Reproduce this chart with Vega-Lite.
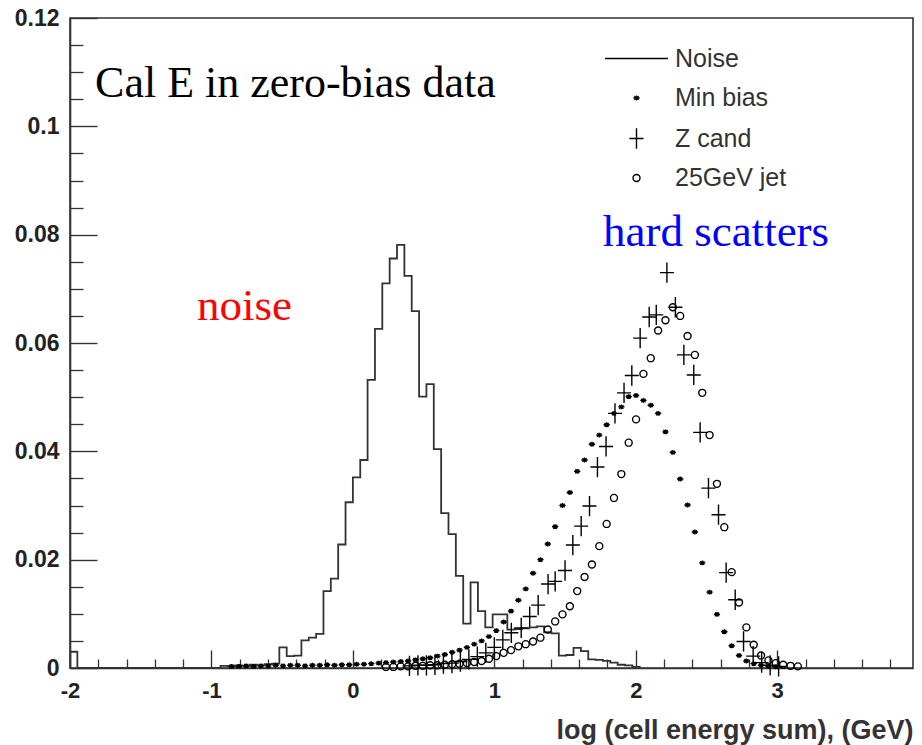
{
  "$schema": "https://vega.github.io/schema/vega-lite/v6.json",
  "width": 843,
  "height": 650,
  "autosize": {"type": "none"},
  "padding": {"left": 70, "top": 18, "right": 9, "bottom": 77},
  "background": "white",
  "config": {"view": {"stroke": "#333", "strokeWidth": 1.6}, "axis": {"grid": false}},
  "datasets": {
    "noise": [
      {"x": -2, "y": 0.003}, {"x": -1.948, "y": 0},
      {"x": -0.936, "y": 0.0004}, {"x": -0.884, "y": 0.0003}, {"x": -0.832, "y": 0.0005}, {"x": -0.78, "y": 0.0004},
      {"x": -0.728, "y": 0.0006}, {"x": -0.676, "y": 0.0005}, {"x": -0.624, "y": 0.0007}, {"x": -0.572, "y": 0.0008},
      {"x": -0.52, "y": 0.0038}, {"x": -0.468, "y": 0.0022}, {"x": -0.416, "y": 0.0023}, {"x": -0.364, "y": 0.0051},
      {"x": -0.312, "y": 0.0056}, {"x": -0.26, "y": 0.0063}, {"x": -0.208, "y": 0.0142}, {"x": -0.156, "y": 0.0165},
      {"x": -0.104, "y": 0.0228}, {"x": -0.052, "y": 0.0306}, {"x": 0, "y": 0.0352}, {"x": 0.052, "y": 0.0384},
      {"x": 0.104, "y": 0.0532}, {"x": 0.156, "y": 0.0626}, {"x": 0.208, "y": 0.071}, {"x": 0.26, "y": 0.0756},
      {"x": 0.312, "y": 0.0781}, {"x": 0.364, "y": 0.0724}, {"x": 0.416, "y": 0.0659}, {"x": 0.468, "y": 0.0501},
      {"x": 0.52, "y": 0.0524}, {"x": 0.572, "y": 0.0404}, {"x": 0.624, "y": 0.0286}, {"x": 0.676, "y": 0.0247},
      {"x": 0.728, "y": 0.017}, {"x": 0.78, "y": 0.0082}, {"x": 0.832, "y": 0.0158}, {"x": 0.884, "y": 0.0105},
      {"x": 0.936, "y": 0.0075}, {"x": 0.988, "y": 0.0099}, {"x": 1.04, "y": 0.0099}, {"x": 1.092, "y": 0.0071},
      {"x": 1.144, "y": 0.0072}, {"x": 1.196, "y": 0.0073}, {"x": 1.248, "y": 0.0075}, {"x": 1.3, "y": 0.0077},
      {"x": 1.352, "y": 0.0066}, {"x": 1.404, "y": 0.0064}, {"x": 1.456, "y": 0.0023}, {"x": 1.508, "y": 0.0024},
      {"x": 1.56, "y": 0.0037}, {"x": 1.612, "y": 0.0031}, {"x": 1.664, "y": 0.0016}, {"x": 1.716, "y": 0.0015},
      {"x": 1.768, "y": 0.0013}, {"x": 1.82, "y": 0.001}, {"x": 1.872, "y": 0.0006}, {"x": 1.924, "y": 0.0005},
      {"x": 1.976, "y": 0.0002}, {"x": 2.028, "y": 0}
    ],
    "pts": [
      {"x": -0.858, "y": 0.0003, "series": "Min bias"}, {"x": -0.806, "y": 0.0003, "series": "Min bias"},
      {"x": -0.754, "y": 0.0004, "series": "Min bias"}, {"x": -0.702, "y": 0.0003, "series": "Min bias"},
      {"x": -0.65, "y": 0.0004, "series": "Min bias"}, {"x": -0.598, "y": 0.0004, "series": "Min bias"},
      {"x": -0.546, "y": 0.0005, "series": "Min bias"}, {"x": -0.494, "y": 0.0004, "series": "Min bias"},
      {"x": -0.442, "y": 0.0005, "series": "Min bias"}, {"x": -0.39, "y": 0.0005, "series": "Min bias"},
      {"x": -0.338, "y": 0.0004, "series": "Min bias"}, {"x": -0.286, "y": 0.0005, "series": "Min bias"},
      {"x": -0.234, "y": 0.0005, "series": "Min bias"}, {"x": -0.182, "y": 0.0006, "series": "Min bias"},
      {"x": -0.13, "y": 0.0005, "series": "Min bias"}, {"x": -0.078, "y": 0.0006, "series": "Min bias"},
      {"x": -0.026, "y": 0.0006, "series": "Min bias"}, {"x": 0.026, "y": 0.0007, "series": "Min bias"},
      {"x": 0.078, "y": 0.0007, "series": "Min bias"}, {"x": 0.13, "y": 0.0008, "series": "Min bias"},
      {"x": 0.182, "y": 0.0009, "series": "Min bias"}, {"x": 0.234, "y": 0.001, "series": "Min bias"},
      {"x": 0.286, "y": 0.0011, "series": "Min bias"}, {"x": 0.338, "y": 0.0012, "series": "Min bias"},
      {"x": 0.39, "y": 0.0013, "series": "Min bias"}, {"x": 0.442, "y": 0.0015, "series": "Min bias"},
      {"x": 0.494, "y": 0.0017, "series": "Min bias"}, {"x": 0.546, "y": 0.0019, "series": "Min bias"},
      {"x": 0.598, "y": 0.0022, "series": "Min bias"}, {"x": 0.65, "y": 0.0025, "series": "Min bias"},
      {"x": 0.702, "y": 0.0029, "series": "Min bias"}, {"x": 0.754, "y": 0.0033, "series": "Min bias"},
      {"x": 0.806, "y": 0.0038, "series": "Min bias"}, {"x": 0.858, "y": 0.0044, "series": "Min bias"},
      {"x": 0.91, "y": 0.005, "series": "Min bias"}, {"x": 0.962, "y": 0.0058, "series": "Min bias"},
      {"x": 1.014, "y": 0.0069, "series": "Min bias"}, {"x": 1.066, "y": 0.0085, "series": "Min bias"},
      {"x": 1.118, "y": 0.0105, "series": "Min bias"}, {"x": 1.17, "y": 0.0125, "series": "Min bias"},
      {"x": 1.222, "y": 0.0146, "series": "Min bias"}, {"x": 1.274, "y": 0.0175, "series": "Min bias"},
      {"x": 1.326, "y": 0.02, "series": "Min bias"}, {"x": 1.378, "y": 0.0229, "series": "Min bias"},
      {"x": 1.43, "y": 0.0261, "series": "Min bias"}, {"x": 1.482, "y": 0.03, "series": "Min bias"},
      {"x": 1.534, "y": 0.0324, "series": "Min bias"}, {"x": 1.586, "y": 0.0363, "series": "Min bias"},
      {"x": 1.638, "y": 0.0384, "series": "Min bias"}, {"x": 1.69, "y": 0.0413, "series": "Min bias"},
      {"x": 1.742, "y": 0.043, "series": "Min bias"}, {"x": 1.794, "y": 0.0449, "series": "Min bias"},
      {"x": 1.846, "y": 0.047, "series": "Min bias"}, {"x": 1.898, "y": 0.0482, "series": "Min bias"},
      {"x": 1.95, "y": 0.0501, "series": "Min bias"}, {"x": 2.002, "y": 0.0503, "series": "Min bias"},
      {"x": 2.054, "y": 0.0494, "series": "Min bias"}, {"x": 2.106, "y": 0.0485, "series": "Min bias"},
      {"x": 2.158, "y": 0.047, "series": "Min bias"}, {"x": 2.21, "y": 0.0436, "series": "Min bias"},
      {"x": 2.262, "y": 0.0398, "series": "Min bias"}, {"x": 2.314, "y": 0.0349, "series": "Min bias"},
      {"x": 2.366, "y": 0.0301, "series": "Min bias"}, {"x": 2.418, "y": 0.0251, "series": "Min bias"},
      {"x": 2.47, "y": 0.0194, "series": "Min bias"}, {"x": 2.522, "y": 0.014, "series": "Min bias"},
      {"x": 2.574, "y": 0.0099, "series": "Min bias"}, {"x": 2.626, "y": 0.0067, "series": "Min bias"},
      {"x": 2.678, "y": 0.0041, "series": "Min bias"}, {"x": 2.73, "y": 0.0023, "series": "Min bias"},
      {"x": 2.782, "y": 0.0013, "series": "Min bias"}, {"x": 2.834, "y": 0.0008, "series": "Min bias"},
      {"x": 2.886, "y": 0.0005, "series": "Min bias"}, {"x": 2.938, "y": 0.0003, "series": "Min bias"},
      {"x": 2.99, "y": 0.0002, "series": "Min bias"},

      {"x": 0.4, "y": 0.0004, "series": "Z cand"}, {"x": 0.46, "y": 0.0005, "series": "Z cand"},
      {"x": 0.52, "y": 0.0005, "series": "Z cand"}, {"x": 0.58, "y": 0.0006, "series": "Z cand"},
      {"x": 0.64, "y": 0.0008, "series": "Z cand"}, {"x": 0.7, "y": 0.0009, "series": "Z cand"},
      {"x": 0.76, "y": 0.0012, "series": "Z cand"}, {"x": 0.82, "y": 0.0016, "series": "Z cand"},
      {"x": 0.88, "y": 0.0021, "series": "Z cand"}, {"x": 0.94, "y": 0.0028, "series": "Z cand"},
      {"x": 1.0, "y": 0.0038, "series": "Z cand"}, {"x": 1.06, "y": 0.0052, "series": "Z cand"},
      {"x": 1.12, "y": 0.0065, "series": "Z cand"}, {"x": 1.19, "y": 0.0074, "series": "Z cand"},
      {"x": 1.25, "y": 0.0095, "series": "Z cand"}, {"x": 1.31, "y": 0.0116, "series": "Z cand"},
      {"x": 1.38, "y": 0.0155, "series": "Z cand"}, {"x": 1.43, "y": 0.016, "series": "Z cand"},
      {"x": 1.5, "y": 0.018, "series": "Z cand"}, {"x": 1.555, "y": 0.0227, "series": "Z cand"},
      {"x": 1.614, "y": 0.0262, "series": "Z cand"}, {"x": 1.673, "y": 0.0299, "series": "Z cand"},
      {"x": 1.729, "y": 0.0371, "series": "Z cand"}, {"x": 1.79, "y": 0.0409, "series": "Z cand"},
      {"x": 1.853, "y": 0.047, "series": "Z cand"}, {"x": 1.917, "y": 0.0508, "series": "Z cand"},
      {"x": 1.972, "y": 0.054, "series": "Z cand"}, {"x": 2.031, "y": 0.0609, "series": "Z cand"},
      {"x": 2.095, "y": 0.0648, "series": "Z cand"}, {"x": 2.145, "y": 0.0652, "series": "Z cand"},
      {"x": 2.22, "y": 0.073, "series": "Z cand"}, {"x": 2.28, "y": 0.0666, "series": "Z cand"},
      {"x": 2.34, "y": 0.0578, "series": "Z cand"}, {"x": 2.41, "y": 0.0541, "series": "Z cand"},
      {"x": 2.455, "y": 0.0435, "series": "Z cand"}, {"x": 2.514, "y": 0.0332, "series": "Z cand"},
      {"x": 2.585, "y": 0.0283, "series": "Z cand"}, {"x": 2.639, "y": 0.0176, "series": "Z cand"},
      {"x": 2.703, "y": 0.0126, "series": "Z cand"}, {"x": 2.762, "y": 0.0049, "series": "Z cand"},
      {"x": 2.83, "y": 0.0022, "series": "Z cand"}, {"x": 2.89, "y": 0.001, "series": "Z cand"},
      {"x": 2.95, "y": 0.0005, "series": "Z cand"}, {"x": 3.01, "y": 0.0003, "series": "Z cand"},

      {"x": 0.234, "y": 0.0002, "series": "25GeV jet"}, {"x": 0.286, "y": 0.0002, "series": "25GeV jet"},
      {"x": 0.338, "y": 0.0003, "series": "25GeV jet"}, {"x": 0.39, "y": 0.0003, "series": "25GeV jet"},
      {"x": 0.442, "y": 0.0004, "series": "25GeV jet"}, {"x": 0.494, "y": 0.0004, "series": "25GeV jet"},
      {"x": 0.546, "y": 0.0005, "series": "25GeV jet"}, {"x": 0.598, "y": 0.0005, "series": "25GeV jet"},
      {"x": 0.65, "y": 0.0006, "series": "25GeV jet"}, {"x": 0.702, "y": 0.0007, "series": "25GeV jet"},
      {"x": 0.754, "y": 0.0008, "series": "25GeV jet"}, {"x": 0.806, "y": 0.0009, "series": "25GeV jet"},
      {"x": 0.858, "y": 0.0011, "series": "25GeV jet"}, {"x": 0.91, "y": 0.0013, "series": "25GeV jet"},
      {"x": 0.962, "y": 0.0017, "series": "25GeV jet"}, {"x": 1.014, "y": 0.0022, "series": "25GeV jet"},
      {"x": 1.066, "y": 0.0028, "series": "25GeV jet"}, {"x": 1.118, "y": 0.0033, "series": "25GeV jet"},
      {"x": 1.17, "y": 0.004, "series": "25GeV jet"}, {"x": 1.222, "y": 0.0044, "series": "25GeV jet"},
      {"x": 1.274, "y": 0.0049, "series": "25GeV jet"}, {"x": 1.326, "y": 0.0056, "series": "25GeV jet"},
      {"x": 1.378, "y": 0.0071, "series": "25GeV jet"}, {"x": 1.43, "y": 0.0086, "series": "25GeV jet"},
      {"x": 1.482, "y": 0.0099, "series": "25GeV jet"}, {"x": 1.534, "y": 0.0114, "series": "25GeV jet"},
      {"x": 1.586, "y": 0.0142, "series": "25GeV jet"}, {"x": 1.638, "y": 0.0168, "series": "25GeV jet"},
      {"x": 1.69, "y": 0.0191, "series": "25GeV jet"}, {"x": 1.742, "y": 0.0225, "series": "25GeV jet"},
      {"x": 1.794, "y": 0.0266, "series": "25GeV jet"}, {"x": 1.846, "y": 0.0314, "series": "25GeV jet"},
      {"x": 1.898, "y": 0.0358, "series": "25GeV jet"}, {"x": 1.95, "y": 0.0416, "series": "25GeV jet"},
      {"x": 2.002, "y": 0.0459, "series": "25GeV jet"}, {"x": 2.054, "y": 0.0543, "series": "25GeV jet"},
      {"x": 2.106, "y": 0.0572, "series": "25GeV jet"}, {"x": 2.158, "y": 0.0623, "series": "25GeV jet"},
      {"x": 2.21, "y": 0.0642, "series": "25GeV jet"}, {"x": 2.262, "y": 0.0666, "series": "25GeV jet"},
      {"x": 2.314, "y": 0.065, "series": "25GeV jet"}, {"x": 2.366, "y": 0.0613, "series": "25GeV jet"},
      {"x": 2.418, "y": 0.0578, "series": "25GeV jet"}, {"x": 2.47, "y": 0.0508, "series": "25GeV jet"},
      {"x": 2.522, "y": 0.043, "series": "25GeV jet"}, {"x": 2.574, "y": 0.034, "series": "25GeV jet"},
      {"x": 2.626, "y": 0.026, "series": "25GeV jet"}, {"x": 2.678, "y": 0.0177, "series": "25GeV jet"},
      {"x": 2.73, "y": 0.0121, "series": "25GeV jet"}, {"x": 2.782, "y": 0.0075, "series": "25GeV jet"},
      {"x": 2.834, "y": 0.0043, "series": "25GeV jet"}, {"x": 2.886, "y": 0.0023, "series": "25GeV jet"},
      {"x": 2.938, "y": 0.0014, "series": "25GeV jet"}, {"x": 2.99, "y": 0.0009, "series": "25GeV jet"},
      {"x": 3.042, "y": 0.0006, "series": "25GeV jet"}, {"x": 3.094, "y": 0.0004, "series": "25GeV jet"},
      {"x": 3.146, "y": 0.0003, "series": "25GeV jet"}
    ],
    "one": [{}]
  },
  "resolve": {"axis": {"x": "independent", "y": "independent"}},
  "layer": [
    {
      "data": {"name": "noise"},
      "mark": {"type": "line", "interpolate": "step-after", "stroke": "#333", "strokeWidth": 1.8},
      "encoding": {
        "x": {
          "field": "x", "type": "quantitative",
          "scale": {"domain": [-2, 3.96], "nice": false, "zero": false},
          "axis": {
            "orient": "bottom", "values": [-2, -1, 0, 1, 2, 3], "tickSize": -18, "tickColor": "#333", "tickWidth": 1.4,
            "domainColor": "#333", "domainWidth": 1.6,
            "labelFont": "Liberation Sans", "labelFontSize": 22, "labelFontWeight": "bold", "labelColor": "#222",
            "labelPadding": 30, "labelFlush": false, "labelOverlap": false,
            "labelExpr": "replace(datum.label, '−', '-')",
            "title": "log (cell energy sum), (GeV)", "titleAnchor": "end", "titleFont": "Liberation Sans",
            "titleFontSize": 27, "titleFontWeight": "bold", "titleColor": "#333", "titlePadding": 16
          }
        },
        "y": {
          "field": "y", "type": "quantitative",
          "scale": {"domain": [0, 0.12], "nice": false},
          "axis": {
            "orient": "left", "values": [0, 0.02, 0.04, 0.06, 0.08, 0.1, 0.12],
            "labelExpr": "datum.value == 0 ? '0' : format(datum.value, '.2~f')",
            "tickSize": -27, "tickColor": "#333", "tickWidth": 1.4, "domainColor": "#333", "domainWidth": 1.6,
            "labelFont": "Liberation Sans", "labelFontSize": 23, "labelFontWeight": "bold", "labelColor": "#222",
            "labelPadding": 38, "labelOverlap": false, "title": null
          }
        }
      }
    },
    {
      "data": {"name": "pts"},
      "mark": {"type": "point", "filled": false, "color": "black", "strokeWidth": 1.4, "size": 49, "opacity": 1},
      "encoding": {
        "x": {
          "field": "x", "type": "quantitative",
          "axis": {
            "orient": "bottom",
            "values": [-1.8, -1.6, -1.4, -1.2, -0.8, -0.6, -0.4, -0.2, 0.2, 0.4, 0.6, 0.8, 1.2, 1.4, 1.6, 1.8, 2.2, 2.4, 2.6, 2.8, 3.2, 3.4, 3.6, 3.8],
            "tickSize": -9, "tickColor": "#333", "tickWidth": 1.3, "labels": false, "domain": false, "title": null
          }
        },
        "y": {
          "field": "y", "type": "quantitative",
          "axis": {
            "orient": "left",
            "values": [0.005, 0.01, 0.015, 0.025, 0.03, 0.035, 0.045, 0.05, 0.055, 0.065, 0.07, 0.075, 0.085, 0.09, 0.095, 0.105, 0.11, 0.115],
            "tickSize": -13, "tickColor": "#333", "tickWidth": 1.3, "labels": false, "domain": false, "title": null
          }
        },
        "shape": {
          "field": "series", "type": "nominal",
          "scale": {
            "domain": ["Noise", "Min bias", "Z cand", "25GeV jet"],
            "range": ["M-9,0H9", "M-0.9,0H0.9M0,-0.7V0.7M-0.6,-0.5L0.6,0.5M-0.6,0.5L0.6,-0.5", "M-2,0H2M0,-2.9V2.9", "circle"]
          },
          "legend": {
            "orient": "none", "legendX": 554, "legendY": 28, "title": null, "padding": 0,
            "labelFont": "Liberation Sans", "labelFontSize": 25, "labelColor": "#333", "labelOffset": 26, "labelLimit": 300,
            "rowPadding": 13.5, "symbolSize": 49, "symbolStrokeWidth": 1.4, "symbolStrokeColor": "black"
          }
        }
      }
    },
    {
      "data": {"name": "one"},
      "mark": {"type": "text", "text": "Cal E in zero-bias data", "font": "Liberation Serif", "fontSize": 44, "align": "left", "baseline": "alphabetic", "color": "black"},
      "encoding": {
        "x": {"datum": -1.823, "type": "quantitative", "axis": null},
        "y": {"datum": 0.1054, "type": "quantitative", "axis": null}
      }
    },
    {
      "data": {"name": "one"},
      "mark": {"type": "text", "text": "noise", "font": "Liberation Serif", "fontSize": 45, "align": "left", "baseline": "alphabetic", "color": "#ff0000"},
      "encoding": {
        "x": {"datum": -1.102, "type": "quantitative", "axis": null},
        "y": {"datum": 0.0642, "type": "quantitative", "axis": null}
      }
    },
    {
      "data": {"name": "one"},
      "mark": {"type": "text", "text": "hard scatters", "font": "Liberation Serif", "fontSize": 45, "align": "left", "baseline": "alphabetic", "color": "#0000ff"},
      "encoding": {
        "x": {"datum": 1.768, "type": "quantitative", "axis": null},
        "y": {"datum": 0.0779, "type": "quantitative", "axis": null}
      }
    }
  ]
}
